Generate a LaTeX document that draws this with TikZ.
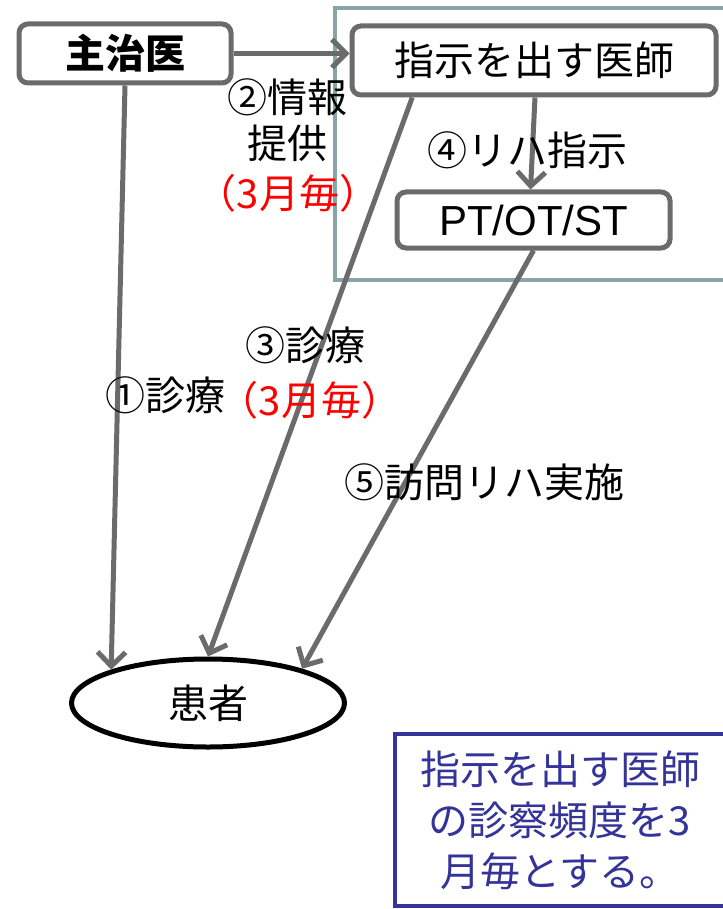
\documentclass[tikz,border=0pt]{standalone}
\usepackage{fontspec}
\setmainfont{Noto Sans CJK JP}
\newfontfamily\latinfont{Liberation Sans}
\usetikzlibrary{arrows.meta,shapes.geometric,calc}
\definecolor{linegray}{HTML}{6B6B6B}
\definecolor{tealframe}{HTML}{87A5A8}
\definecolor{notebl}{HTML}{333399}
\definecolor{redtxt}{HTML}{FF0000}
\begin{document}
\begin{tikzpicture}[x=1pt,y=-1pt,
  txt/.style={font=\fontsize{40}{48}\selectfont, inner sep=0pt},
  box/.style={draw=linegray, line width=5pt, rounded corners=9pt, fill=white, inner sep=0pt, font=\fontsize{40}{48}\selectfont},
  conn/.style={draw=linegray, line width=5pt, -{Straight Barb[length=14pt,width=28pt]}},
]
\useasboundingbox (0,0) rectangle (722,909);
\fill[white] (0,0) rectangle (722,909);
\draw[tealframe, line width=4pt] (335,8) rectangle (760,280);

\node[box, minimum width=212pt, minimum height=59pt, font=\fontsize{40}{48}\selectfont\bfseries] (shuji) at (125,53.5) {主治医};
\node[box, minimum width=364pt, minimum height=69pt] (shiji) at (534,60.5) {指示を出す医師};
\node[box, minimum width=273pt, minimum height=56pt, font=\latinfont\fontsize{42}{48}\selectfont] (pt) at (533.5,220) {PT/OT/ST};
\node[ellipse, draw=black, line width=5pt, minimum width=273pt, minimum height=88pt, inner sep=0pt, font=\fontsize{40}{48}\selectfont] (kanja) at (208,703) {患者};

\draw[conn] (shuji.east) -- (shuji.east -| shiji.west);
\draw[conn] (shuji.south) -- (kanja.161);
\draw[conn] ($(shiji.south west)!0.17!(shiji.south east)$) -- (kanja.north);
\draw[conn] ($(shiji.south)+(1,0)$) -- ($(pt.north)+(-3,0)$);
\draw[conn] (pt.south) -- (kanja.20);

\node[txt] (l2a) at (287,97) {②情報};
\node[txt] (l2b) at (287,143) {提供};
\node[txt, text=redtxt] (l2c) at (288,193) {（3月毎）};
\node[txt] (l4) at (527,150) {④リハ指示};
\node[txt] (l3) at (305,345) {③診療};
\node[txt] (l1) at (165,395) {①診療};
\node[txt, text=redtxt] (l1r) at (310,400) {（3月毎）};
\node[txt] (l5) at (484,482) {⑤訪問リハ実施};

\node[draw=notebl, line width=4pt, text=notebl, minimum width=330pt, minimum height=172pt, align=center, font=\fontsize{40}{51}\selectfont, inner sep=0pt] (note) at (560,820) {指示を出す医師\\の診察頻度を3\\月毎とする。};
\end{tikzpicture}
\end{document}
